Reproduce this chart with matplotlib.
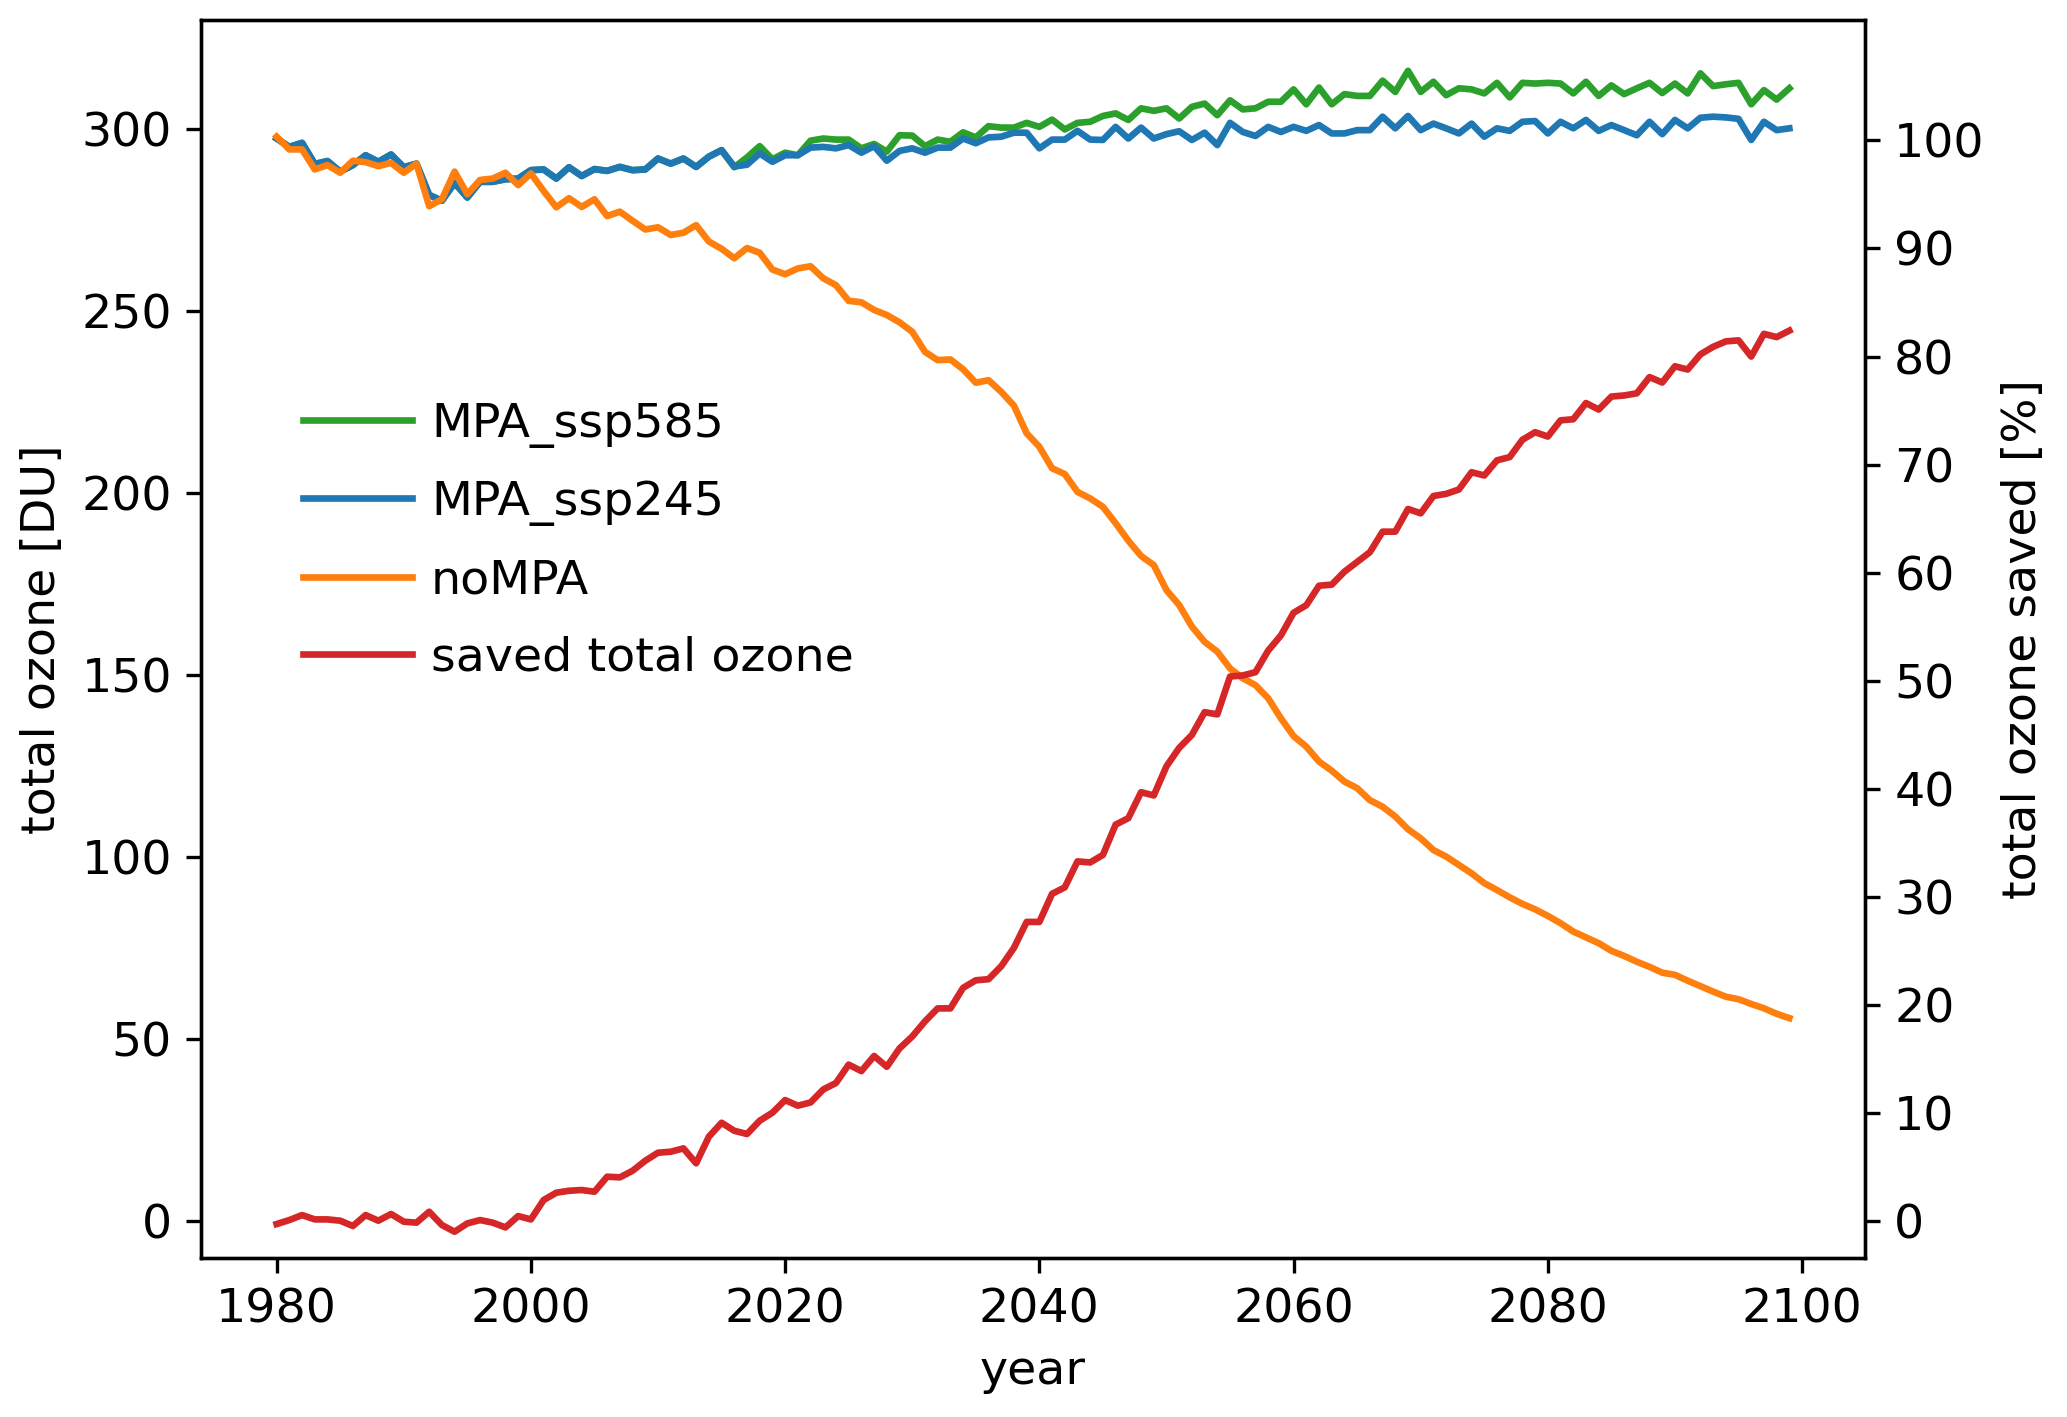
import numpy as np
import matplotlib
matplotlib.use('Agg')
import matplotlib.pyplot as plt

years = np.arange(1980, 2100)

mpa_ssp245 = [297.5, 295.2, 296.3, 290.5, 291.3, 288.4, 290.2, 292.9, 291.1, 293.1,
              289.6, 290.6, 282.0, 280.4, 285.3, 281.3, 285.6, 285.6, 286.3, 286.5,
              288.8, 289.0, 286.5, 289.6, 287.2, 289.1, 288.6, 289.7, 288.8, 289.0,
              292.0, 290.6, 292.0, 289.7, 292.5, 294.3, 289.8, 290.3, 293.4, 291.1,
              292.9, 292.9, 295.0, 295.2, 294.8, 295.7, 293.6, 295.4, 291.4, 294.1,
              294.8, 293.6, 295.0, 295.0, 297.5, 296.2, 297.8, 298.0, 299.1, 299.1,
              294.8, 297.2, 297.2, 299.6, 297.2, 297.1, 300.7, 297.5, 300.5, 297.5,
              298.7, 299.5, 297.1, 299.1, 295.7, 301.8, 299.3, 298.2, 300.7, 299.3,
              300.7, 299.6, 301.2, 298.9, 298.9, 299.8, 299.8, 303.5, 300.3, 303.7,
              299.8, 301.6, 300.3, 298.9, 301.6, 298.0, 300.3, 299.6, 302.1, 302.3,
              298.9, 302.1, 300.3, 302.6, 299.6, 301.2, 299.8, 298.4, 302.1, 298.7,
              302.6, 300.3, 303.2, 303.5, 303.3, 302.9, 297.1, 302.1, 299.8, 300.3]

# ssp585 run from 2015 on
mpa_ssp585 = [294.3, 289.6, 292.3, 295.4, 291.8,
              293.6, 292.9, 296.9, 297.5, 297.2, 297.2, 294.8, 296.0, 293.9, 298.4,
              298.3, 295.4, 297.2, 296.6, 299.2, 297.8, 300.9, 300.5, 300.5, 301.8,
              300.7, 302.7, 300.0, 301.8, 302.1, 303.7, 304.4, 302.6, 305.8, 305.1,
              305.8, 303.0, 306.2, 307.1, 303.9, 308.0, 305.5, 305.8, 307.6, 307.6,
              311.0, 306.9, 311.5, 306.9, 309.7, 309.2, 309.2, 313.4, 310.3, 316.1,
              310.3, 313.1, 309.4, 311.3, 311.0, 309.9, 312.8, 308.8, 312.8, 312.6,
              312.8, 312.6, 309.9, 313.1, 309.2, 312.1, 309.7, 311.3, 312.8, 310.0,
              312.6, 309.9, 315.4, 311.9, 312.4, 312.8, 306.9, 310.8, 308.2, 311.3]

no_mpa = [298.0, 294.5, 294.5, 289.0, 290.2, 288.1, 291.4, 291.0, 289.9, 290.8,
          288.1, 290.6, 278.9, 280.8, 288.4, 282.2, 286.1, 286.5, 288.1, 284.7,
          287.9, 283.1, 278.6, 281.1, 278.7, 280.8, 276.2, 277.4, 274.9, 272.5,
          273.1, 271.0, 271.6, 273.7, 269.2, 267.2, 264.6, 267.4, 266.1, 261.5,
          260.2, 261.8, 262.4, 259.1, 257.2, 252.9, 252.5, 250.4, 249.0, 247.0,
          244.4, 238.9, 236.6, 236.8, 234.1, 230.4, 231.1, 227.9, 224.1, 216.5,
          212.8, 206.9, 205.3, 200.4, 198.6, 196.3, 191.8, 187.0, 182.8, 180.3,
          173.4, 169.3, 163.4, 159.2, 156.5, 151.9, 149.2, 147.3, 143.7, 138.2,
          133.3, 130.4, 126.3, 123.8, 120.8, 119.0, 115.7, 113.9, 111.2, 107.7,
          105.2, 102.0, 100.2, 97.9, 95.6, 92.9, 91.0, 89.0, 87.2, 85.7,
          83.9, 81.9, 79.6, 78.0, 76.4, 74.3, 72.9, 71.3, 69.9, 68.3,
          67.7, 66.1, 64.6, 63.1, 61.7, 61.0, 59.7, 58.5, 57.0, 55.8]

saved = [-0.25, 0.12, 0.58, 0.18, 0.18, 0.06, -0.43, 0.58, 0.06, 0.68,
         -0.03, -0.12, 0.89, -0.34, -0.96, -0.19, 0.12, -0.12, -0.56, 0.49,
         0.18, 1.97, 2.65, 2.83, 2.90, 2.74, 4.13, 4.07, 4.68, 5.61,
         6.35, 6.44, 6.75, 5.37, 7.83, 9.12, 8.38, 8.08, 9.31, 10.05,
         11.22, 10.7, 11.0, 12.2, 12.8, 14.5, 13.9, 15.3, 14.3, 16.0,
         17.1, 18.5, 19.7, 19.7, 21.6, 22.3, 22.4, 23.6, 25.3, 27.7,
         27.7, 30.3, 30.9, 33.3, 33.2, 33.9, 36.7, 37.3, 39.7, 39.4,
         42.1, 43.8, 45.0, 47.1, 46.9, 50.4, 50.5, 50.8, 52.8, 54.2,
         56.3, 57.0, 58.8, 58.9, 60.1, 61.0, 61.9, 63.8, 63.8, 65.9,
         65.5, 67.1, 67.3, 67.7, 69.3, 69.0, 70.4, 70.7, 72.3, 73.0,
         72.6, 74.1, 74.2, 75.7, 75.1, 76.3, 76.4, 76.6, 78.1, 77.6,
         79.1, 78.8, 80.2, 80.9, 81.4, 81.5, 80.0, 82.1, 81.8, 82.4]

# historical part of the ssp585 run is the same as ssp245
hist = [v for y, v in zip(years, mpa_ssp245) if y < 2015]
mpa_ssp585_full = hist + mpa_ssp585

plt.rcParams['font.size'] = 11.4
plt.rcParams['lines.linewidth'] = 1.6

fig = plt.figure(figsize=(2067 / 300, 1417 / 300), dpi=300)
ax = fig.add_axes([201 / 2067, 1 - 1258 / 1417, 1664 / 2067, 1238.5 / 1417])

l1, = ax.plot(years, mpa_ssp585_full, color='tab:green', label='MPA_ssp585')
l2, = ax.plot(years, mpa_ssp245, color='tab:blue', label='MPA_ssp245')
l3, = ax.plot(years, no_mpa, color='tab:orange', label='noMPA')
ax.set_ylim(-10.1, 330.2)
ax.set_xticks(np.arange(1980, 2101, 20))
ax.set_xlabel('year')
ax.set_ylabel('total ozone [DU]')

ax2 = ax.twinx()
l4, = ax2.plot(years, saved, color='tab:red', label='saved total ozone')
ax2.set_ylim(-3.39, 111.18)
ax2.set_yticks(np.arange(0, 101, 10))
ax2.set_ylabel('total ozone saved [%]')

ax.legend(handles=[l1, l2, l3, l4], frameon=False, loc='upper left',
          bbox_to_anchor=(0.0355, 0.726), handlelength=2.3, handletextpad=0.4,
          labelspacing=0.68)

fig.savefig('out.png', dpi=300)
